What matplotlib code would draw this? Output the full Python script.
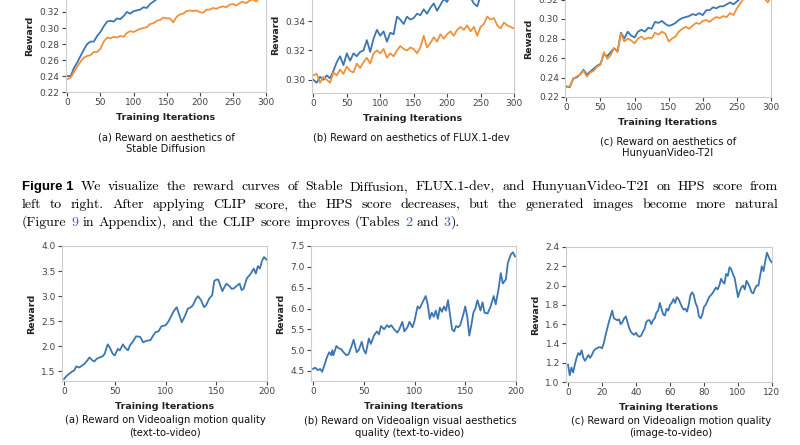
import numpy as np
import matplotlib
matplotlib.use('Agg')
import matplotlib.pyplot as plt
from matplotlib.ticker import MultipleLocator

# ---- data ----
# top row: HPS reward, sampled every 5 iterations
iters_top = np.arange(0, 305, 5)
sd_hps = [0.240, 0.240, 0.250, 0.257, 0.265, 0.273, 0.280, 0.283, 0.283, 0.290,
          0.295, 0.302, 0.308, 0.309, 0.308, 0.312, 0.311, 0.315, 0.320, 0.318,
          0.321, 0.322, 0.323, 0.326, 0.325, 0.330, 0.333, 0.336, 0.338, 0.340,
          0.341, 0.343, 0.344, 0.345, 0.346, 0.347, 0.348, 0.349, 0.350, 0.350,
          0.351, 0.352, 0.352, 0.353, 0.354, 0.354, 0.355, 0.356, 0.356, 0.357,
          0.358, 0.358, 0.359, 0.359, 0.360, 0.360, 0.361, 0.361, 0.362, 0.362, 0.363]
sd_clip = [0.236, 0.238, 0.245, 0.252, 0.258, 0.263, 0.265, 0.266, 0.270, 0.270,
           0.274, 0.283, 0.288, 0.287, 0.289, 0.288, 0.290, 0.289, 0.294, 0.296,
           0.295, 0.297, 0.299, 0.300, 0.301, 0.305, 0.306, 0.309, 0.310, 0.313,
           0.312, 0.312, 0.307, 0.314, 0.317, 0.318, 0.321, 0.322, 0.321, 0.322,
           0.320, 0.319, 0.323, 0.323, 0.325, 0.324, 0.326, 0.327, 0.326, 0.329,
           0.330, 0.328, 0.331, 0.333, 0.331, 0.334, 0.336, 0.333, 0.337, 0.338, 0.339]
flux_hps = [0.300, 0.298, 0.302, 0.300, 0.303, 0.301, 0.306, 0.312, 0.316, 0.310,
            0.318, 0.313, 0.318, 0.316, 0.319, 0.320, 0.327, 0.319, 0.328, 0.334,
            0.330, 0.333, 0.326, 0.332, 0.331, 0.343, 0.341, 0.338, 0.343, 0.341,
            0.342, 0.345, 0.344, 0.348, 0.345, 0.349, 0.352, 0.347, 0.351, 0.355,
            0.353, 0.358, 0.357, 0.360, 0.356, 0.360, 0.359, 0.356, 0.352, 0.350,
            0.357, 0.361, 0.363, 0.364, 0.362, 0.365, 0.366, 0.365, 0.367, 0.366, 0.367]
flux_clip = [0.303, 0.304, 0.298, 0.302, 0.300, 0.298, 0.305, 0.303, 0.307, 0.304,
             0.309, 0.306, 0.305, 0.311, 0.308, 0.312, 0.315, 0.311, 0.318, 0.320,
             0.318, 0.321, 0.315, 0.318, 0.316, 0.320, 0.323, 0.321, 0.320, 0.322,
             0.321, 0.318, 0.322, 0.330, 0.322, 0.325, 0.329, 0.326, 0.331, 0.328,
             0.331, 0.333, 0.330, 0.334, 0.336, 0.334, 0.337, 0.333, 0.336, 0.330,
             0.336, 0.338, 0.343, 0.341, 0.342, 0.337, 0.335, 0.339, 0.337, 0.336, 0.335]
hy_hps = [0.231, 0.230, 0.239, 0.240, 0.243, 0.248, 0.243, 0.246, 0.249, 0.252,
          0.254, 0.264, 0.262, 0.266, 0.270, 0.267, 0.286, 0.280, 0.287, 0.283,
          0.281, 0.287, 0.289, 0.287, 0.291, 0.290, 0.297, 0.296, 0.298, 0.295,
          0.293, 0.294, 0.296, 0.299, 0.301, 0.302, 0.303, 0.305, 0.304, 0.306,
          0.304, 0.309, 0.309, 0.312, 0.311, 0.313, 0.313, 0.315, 0.317, 0.315,
          0.318, 0.321, 0.323, 0.325, 0.326, 0.327, 0.328, 0.329, 0.330, 0.331, 0.332]
hy_clip = [0.230, 0.231, 0.238, 0.241, 0.243, 0.247, 0.241, 0.245, 0.247, 0.251,
           0.253, 0.266, 0.259, 0.263, 0.270, 0.266, 0.285, 0.277, 0.280, 0.278,
           0.275, 0.280, 0.282, 0.279, 0.281, 0.280, 0.286, 0.284, 0.287, 0.285,
           0.277, 0.280, 0.282, 0.287, 0.290, 0.292, 0.290, 0.293, 0.296, 0.295,
           0.298, 0.299, 0.297, 0.300, 0.302, 0.301, 0.303, 0.302, 0.306, 0.304,
           0.311, 0.316, 0.321, 0.322, 0.323, 0.324, 0.325, 0.326, 0.322, 0.317, 0.322]

# bottom row: Videoalign rewards
t2v_mq_x = [0, 3, 5, 8, 10, 12, 15, 18, 20, 23, 25, 28, 30, 32, 35, 38, 40, 43, 45, 48,
            50, 53, 55, 58, 60, 63, 65, 68, 71, 75, 78, 80, 83, 85, 88, 90, 93, 96, 100,
            103, 105, 108, 111, 116, 119, 122, 125, 127, 130, 132, 135, 138, 140, 143,
            146, 148, 150, 152, 156, 158, 160, 163, 165, 167, 171, 173, 175, 177, 180,
            182, 184, 187, 189, 191, 193, 195, 197, 198, 200]
t2v_mq = [1.35, 1.42, 1.45, 1.50, 1.52, 1.60, 1.58, 1.62, 1.65, 1.72, 1.78, 1.72, 1.70,
          1.75, 1.78, 1.80, 1.85, 2.04, 1.98, 1.85, 1.82, 1.95, 1.92, 2.04, 1.98, 1.92,
          2.02, 2.10, 2.20, 2.19, 2.08, 2.10, 2.12, 2.12, 2.22, 2.28, 2.30, 2.40, 2.42,
          2.50, 2.58, 2.70, 2.78, 2.48, 2.60, 2.75, 2.78, 2.82, 2.95, 3.00, 2.92, 2.78,
          2.82, 2.95, 3.02, 3.30, 3.33, 3.33, 3.10, 3.18, 3.25, 3.20, 3.15, 3.15, 3.22,
          3.25, 3.12, 3.15, 3.35, 3.40, 3.45, 3.55, 3.45, 3.60, 3.55, 3.70, 3.78, 3.76, 3.72]
t2v_vq_x = [0, 2, 5, 7, 9, 12, 14, 16, 18, 19, 20, 21, 23, 25, 28, 30, 33, 35, 38, 40,
            43, 45, 48, 50, 52, 55, 57, 60, 63, 65, 67, 70, 73, 75, 77, 80, 83, 85, 88,
            90, 93, 95, 98, 100, 103, 105, 108, 111, 113, 115, 117, 119, 121, 123, 125,
            127, 129, 131, 133, 135, 137, 139, 141, 143, 145, 148, 150, 152, 154, 156,
            158, 160, 162, 165, 167, 169, 172, 175, 178, 180, 183, 185, 187, 190, 192,
            195, 197, 199]
t2v_vq = [4.55, 4.58, 4.52, 4.55, 4.48, 4.70, 4.85, 4.95, 4.88, 5.00, 4.88, 4.95, 5.10,
          5.05, 5.02, 4.95, 4.88, 4.90, 5.10, 5.25, 4.95, 5.00, 5.20, 5.00, 4.92, 5.28,
          5.15, 5.35, 5.45, 5.38, 5.58, 5.50, 5.60, 5.55, 5.60, 5.50, 5.42, 5.50, 5.68,
          5.45, 5.55, 5.68, 5.55, 5.70, 6.05, 6.00, 6.15, 6.30, 6.10, 5.75, 5.90, 5.80,
          5.95, 5.75, 6.02, 5.92, 6.05, 5.95, 6.20, 5.85, 5.50, 5.45, 5.58, 5.55, 5.60,
          5.85, 6.05, 5.80, 5.35, 5.60, 5.90, 6.00, 6.20, 5.95, 6.15, 5.90, 5.88, 6.05,
          6.30, 6.10, 6.50, 6.85, 6.60, 6.70, 7.10, 7.30, 7.35, 7.25]
i2v_mq = [1.18, 1.07, 1.15, 1.10, 1.18, 1.25, 1.30, 1.28, 1.33, 1.25, 1.22, 1.25, 1.28,
          1.25, 1.28, 1.32, 1.34, 1.35, 1.36, 1.36, 1.35, 1.40, 1.48, 1.55, 1.62, 1.68,
          1.74, 1.66, 1.65, 1.64, 1.65, 1.60, 1.62, 1.66, 1.68, 1.62, 1.56, 1.52, 1.50,
          1.49, 1.51, 1.48, 1.47, 1.48, 1.52, 1.55, 1.62, 1.64, 1.64, 1.60, 1.64, 1.66,
          1.72, 1.74, 1.82, 1.76, 1.70, 1.69, 1.76, 1.74, 1.80, 1.82, 1.86, 1.82, 1.88,
          1.86, 1.82, 1.78, 1.75, 1.76, 1.73, 1.80, 1.90, 1.93, 1.90, 1.82, 1.78, 1.68,
          1.66, 1.70, 1.78, 1.80, 1.84, 1.88, 1.90, 1.92, 1.95, 1.98, 1.96, 2.00, 2.07,
          2.04, 2.02, 2.12, 2.10, 2.19, 2.17, 2.12, 2.08, 1.98, 1.88, 1.94, 1.98, 2.00,
          1.96, 2.05, 2.02, 1.98, 1.93, 1.92, 1.97, 2.00, 2.00, 2.10, 2.20, 2.15, 2.25,
          2.34, 2.30, 2.26, 2.24]
i2v_mq_x = np.arange(len(i2v_mq))

# y ticks that show inside the cropped top row
sd_yticks = [0.22, 0.24, 0.26, 0.28, 0.30, 0.32]
flux_yticks = [0.30, 0.32, 0.34]
hy_yticks = [0.22, 0.24, 0.26, 0.28, 0.30, 0.32]

top_captions = ['(a) Reward on aesthetics of\nStable Diffusion',
                '(b) Reward on aesthetics of FLUX.1-dev',
                '(c) Reward on aesthetics of\nHunyuanVideo-T2I']
bottom_captions = ['(a) Reward on Videoalign motion quality\n(text-to-video)',
                   '(b) Reward on Videoalign visual aesthetics\nquality (text-to-video)',
                   '(c) Reward on Videoalign motion quality\n(image-to-video)']

BLUE = '#3b76b1'
ORANGE = '#f0913b'

plt.rcParams.update({
    'font.family': 'DejaVu Sans',
    'font.size': 6.5,
    'axes.edgecolor': '#cccccc',
    'axes.linewidth': 0.8,
    'xtick.color': '#444444',
    'ytick.color': '#444444',
    'xtick.major.size': 3,
    'ytick.major.size': 3,
    'xtick.major.width': 0.8,
    'ytick.major.width': 0.8,
    'xtick.major.pad': 1.5,
    'ytick.major.pad': 1.5,
})

W, H = 800, 445
fig = plt.figure(figsize=(8, 4.45), dpi=100)


def box(l, t, r, b):
    return [l / W, 1 - b / H, (r - l) / W, (b - t) / H]


def style(ax, xlim, ylim, xstep, ystep):
    ax.set_xlim(*xlim)
    ax.set_ylim(*ylim)
    ax.xaxis.set_major_locator(MultipleLocator(xstep))
    if np.ndim(ystep):
        ax.set_yticks(ystep)
    else:
        ax.yaxis.set_major_locator(MultipleLocator(ystep))
    for s in ax.spines.values():
        s.set_color('#cccccc')
    ax.set_xlabel('Training Iterations', fontsize=6.8, fontweight='bold',
                  color='#222222', labelpad=4)
    ax.set_ylabel('Reward', fontsize=6.8, fontweight='bold', color='#222222',
                  labelpad=4)


# top row
ax1 = fig.add_axes(box(66, -20, 266, 92))
ax1.plot(iters_top, sd_hps, color=BLUE, lw=1.3)
ax1.plot(iters_top, sd_clip, color=ORANGE, lw=1.3)
style(ax1, (-2, 300), (0.22, 0.36), 50, sd_yticks)

ax2 = fig.add_axes(box(312, -23, 514, 93))
ax2.plot(iters_top, flux_hps, color=BLUE, lw=1.3)
ax2.plot(iters_top, flux_clip, color=ORANGE, lw=1.3)
style(ax2, (-2, 300), (0.291, 0.37), 50, flux_yticks)

ax3 = fig.add_axes(box(565, -20, 771, 97))
ax3.plot(iters_top, hy_hps, color=BLUE, lw=1.3)
ax3.plot(iters_top, hy_clip, color=ORANGE, lw=1.3)
style(ax3, (-2, 300), (0.22, 0.34), 50, hy_yticks)

# bottom row
ax4 = fig.add_axes(box(62, 246, 267, 381))
ax4.plot(t2v_mq_x, t2v_mq, color=BLUE, lw=1.3)
style(ax4, (-2, 200), (1.31, 4.0), 50, 0.5)

ax5 = fig.add_axes(box(311, 246, 516, 381))
ax5.plot(t2v_vq_x, t2v_vq, color=BLUE, lw=1.3)
style(ax5, (-2, 200), (4.26, 7.5), 50, 0.5)

ax6 = fig.add_axes(box(566, 247, 772, 382))
ax6.plot(i2v_mq_x, i2v_mq, color=BLUE, lw=1.3)
style(ax6, (-1.2, 120), (1.0, 2.4), 20, 0.2)

# sub-captions
cap_kw = dict(ha='center', va='top', fontsize=7.2, color='#111111', linespacing=1.3)
for (cx, cy), txt in zip([(166, 132), (411, 132), (668, 136)], top_captions):
    fig.text(cx / W, 1 - cy / H, txt, **cap_kw)
for (cx, cy), txt in zip([(165, 415), (410, 416), (671, 416)], bottom_captions):
    fig.text(cx / W, 1 - cy / H, txt, **cap_kw)

# figure caption, justified by hand
renderer = fig.canvas.get_renderer()
serif = dict(family='cmr10', fontsize=10, color='black')
bold = dict(family='Liberation Sans', fontweight='bold', fontsize=9.5, color='black')
link = dict(serif, color='#3d55c9')


def width(s, props):
    t = fig.text(0, 0, s, **props)
    w = t.get_window_extent(renderer=renderer).width
    t.remove()
    return w


space = width('a a', serif) - width('aa', serif)

line1 = [('Figure 1', bold, 1.6)] + [(w, serif, 1) for w in
         'We visualize the reward curves of Stable Diffusion, FLUX.1-dev, and '
         'HunyuanVideo-T2I on HPS score from'.split()]
line2 = [(w, serif, 1) for w in
         'left to right. After applying CLIP score, the HPS score decreases, but '
         'the generated images become more natural'.split()]
line3 = [('(Figure', serif, 1), ('9', link, 1), ('in', serif, 1),
         ('Appendix),', serif, 1), ('and', serif, 1), ('the', serif, 1),
         ('CLIP', serif, 1), ('score', serif, 1), ('improves', serif, 1),
         ('(Tables', serif, 1), ('2', link, 1), ('and', serif, 1),
         ('3', link, 1), (').', serif, 0)]


def place(tokens, y, x0, x1=None):
    widths = [width(s, p) for s, p, _ in tokens]
    gaps = [g for _, _, g in tokens[1:]]
    if x1 is not None:
        unit = (x1 - x0 - sum(widths)) / sum(gaps)
    else:
        unit = space
    x = x0
    for i, (s, p, _) in enumerate(tokens):
        fig.text(x / W, 1 - y / H, s, ha='left', va='baseline', **p)
        x += widths[i]
        if i < len(gaps):
            x += gaps[i] * unit


place(line1, 190, 22, 778)
place(line2, 208, 22, 778)
place(line3, 226, 22)

fig.savefig('out.png', dpi=100)
